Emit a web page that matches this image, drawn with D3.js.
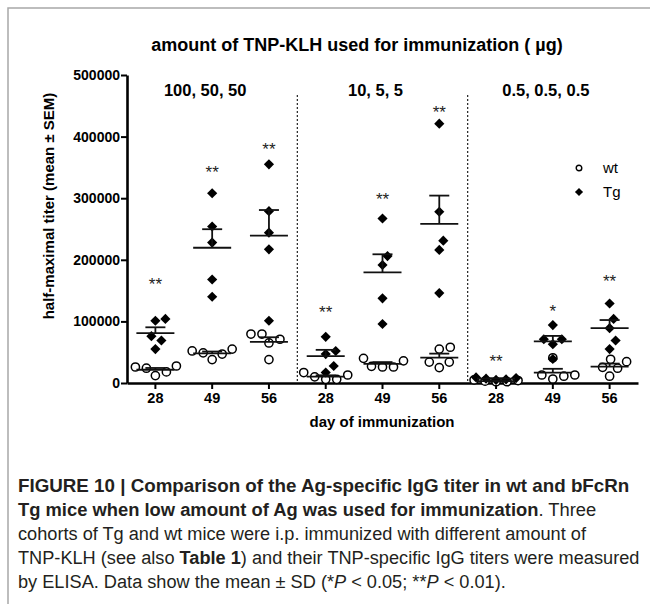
<!DOCTYPE html>
<html>
<head>
<meta charset="utf-8">
<script src="https://cdn.jsdelivr.net/npm/d3@7"></script>
<style>
  body { margin: 0; background: #fff; }
  svg { display: block; }
</style>
</head>
<body>
<div id="chart"></div>
<script>
// categories
const doses = ["100, 50, 50", "10, 5, 5", "0.5, 0.5, 0.5"];
const days = ["28", "49", "56"];
const yTicks = [0, 100000, 200000, 300000, 400000, 500000];

// one row per dose x day, 5 mice each
const tgValues = [
  [101000, 104000, 76000, 69000, 55000],
  [308000, 254000, 228000, 168000, 140000],
  [355000, 279000, 244000, 217000, 101000],
  [75000, 47000, 52000, 27600, 17000],
  [267000, 206000, 191500, 137500, 95800],
  [421000, 278000, 231000, 216000, 146000],
  [8000, 9000, 7000, 5000, 6000],
  [94000, 71000, 71000, 63000, 39000],
  [129000, 104000, 89000, 69000, 55000]
];
const wtValues = [
  [24000, 27600, 26000, 12000, 18000],
  [49000, 55000, 52000, 38000, 47000],
  [79500, 71000, 65000, 79500, 38000],
  [17000, 10000, 6000, 6000, 13000],
  [40000, 26000, 27000, 26000, 36000],
  [58000, 55000, 34000, 25000, 34000],
  [2000, 3000, 4000, 2000, 5000],
  [41000, 13000, 6500, 11000, 13000],
  [38500, 34600, 25500, 24000, 11000]
];
// significance marks and the value they sit at
const sigLabels = ["**", "**", "**", "**", "**", "**", "**", "*", "**"];
const sigY = [167000, 349000, 386000, 122000, 305000, 447000, 43000, 124000, 172600];

const width = 650, height = 604;
const svg = d3.select("#chart").append("svg")
  .attr("width", width)
  .attr("height", height)
  .attr("viewBox", [0, 0, width, height])
  .style("font-family", "'Liberation Sans', Arial, sans-serif");

// frame
svg.append("path")
  .attr("d", "M8,604V8H650")
  .attr("fill", "none")
  .attr("stroke", "#a8a8a8")
  .attr("stroke-width", 1.5);

const cats = d3.range(doses.length * days.length);
const x = d3.scaleBand().domain(cats).range([127, 638]).padding(0);
const y = d3.scaleLinear().domain([0, 500000]).range([383, 75]);

// axes
const yAxis = svg.append("g")
  .attr("transform", "translate(127,0)")
  .call(d3.axisLeft(y).tickValues(yTicks).tickFormat(d3.format("d")).tickSize(6).tickSizeOuter(0));
const xAxis = svg.append("g")
  .attr("transform", "translate(0,383)")
  .call(d3.axisBottom(x).tickFormat(i => days[i % days.length]).tickSize(6).tickSizeOuter(0));

[yAxis, xAxis].forEach(g => {
  g.select(".domain").attr("stroke", "#000").attr("stroke-width", 2.6);
  g.selectAll(".tick line").attr("stroke", "#000").attr("stroke-width", 2);
  g.selectAll(".tick text").attr("fill", "#000").attr("font-weight", "bold")
    .attr("font-size", 14).attr("font-family", "'Liberation Sans', Arial, sans-serif");
});
yAxis.selectAll(".tick text").attr("x", -7);
xAxis.selectAll(".tick text").attr("y", 10).attr("font-size", 14.5);

// dotted dividers between dose groups
[1, 2].forEach(k => {
  const xv = x(k * days.length);
  svg.append("line")
    .attr("x1", xv).attr("x2", xv)
    .attr("y1", 95).attr("y2", 382)
    .attr("stroke", "#222").attr("stroke-width", 1.2)
    .attr("stroke-dasharray", "2,2");
});

// dose labels
doses.forEach((d, k) => {
  const cx = x(k * days.length) + x.bandwidth() * days.length / 2;
  svg.append("text")
    .attr("x", cx - 7).attr("y", 96)
    .attr("text-anchor", "middle")
    .attr("font-weight", "bold").attr("font-size", 16.5)
    .text(d);
});

// titles
svg.append("text")
  .attr("x", 357).attr("y", 51)
  .attr("text-anchor", "middle")
  .attr("font-weight", "bold").attr("font-size", 18)
  .text("amount of TNP-KLH used for immunization ( \u00b5g)");
svg.append("text")
  .attr("transform", "translate(54,206) rotate(-90)")
  .attr("text-anchor", "middle")
  .attr("font-weight", "bold").attr("font-size", 15)
  .text("half-maximal titer (mean \u00b1 SEM)");
svg.append("text")
  .attr("x", 382).attr("y", 427)
  .attr("text-anchor", "middle")
  .attr("font-weight", "bold").attr("font-size", 15)
  .text("day of immunization");

// simple beeswarm: spread points that collide in y
function swarm(vals, dist) {
  const placed = [];
  const out = new Array(vals.length);
  const order = d3.range(vals.length).sort((a, b) => vals[a] - vals[b]);
  order.forEach(i => {
    const py = y(vals[i]);
    let dx = 0;
    for (let k = 0; k < 80; k++) {
      const c = (k % 2 ? 1 : -1) * Math.ceil(k / 2);
      if (placed.every(p => Math.hypot(p.dx - c, p.y - py) >= dist)) { dx = c; break; }
    }
    placed.push({ dx, y: py });
    out[i] = dx;
  });
  return out;
}

const diamond = d3.symbol().type(d3.symbolDiamond2).size(66);
const plot = svg.append("g");

cats.forEach(i => {
  const cx = x(i) + x.bandwidth() / 2;
  const tg = tgValues[i], wt = wtValues[i];

  const wtDx = swarm(wt, 11);
  plot.append("g").selectAll("circle")
    .data(wt)
    .join("circle")
      .attr("cx", (d, j) => cx + wtDx[j])
      .attr("cy", d => y(d))
      .attr("r", 4.1)
      .attr("fill", "#fff")
      .attr("stroke", "#000")
      .attr("stroke-width", 1.5);

  const tgDx = swarm(tg, 10);
  plot.append("g").selectAll("path")
    .data(tg)
    .join("path")
      .attr("transform", (d, j) => `translate(${cx + tgDx[j]},${y(d)})`)
      .attr("d", diamond)
      .attr("fill", "#000");

  // mean with upper SEM
  [tg, wt].forEach(vals => {
    const m = d3.mean(vals);
    const sem = d3.deviation(vals) / Math.sqrt(vals.length);
    const g = plot.append("g").attr("stroke", "#111").attr("stroke-width", 1.8);
    g.append("line").attr("x1", cx - 19).attr("x2", cx + 19).attr("y1", y(m)).attr("y2", y(m));
    g.append("line").attr("x1", cx).attr("x2", cx).attr("y1", y(m)).attr("y2", y(m + sem));
    g.append("line").attr("x1", cx - 10).attr("x2", cx + 10).attr("y1", y(m + sem)).attr("y2", y(m + sem));
  });

  svg.append("text")
    .attr("x", cx).attr("y", y(sigY[i]) + 10)
    .attr("text-anchor", "middle")
    .attr("font-size", 17).attr("fill", "#222")
    .text(sigLabels[i]);
});

// legend
const lg = svg.append("g").attr("transform", "translate(579,0)");
lg.append("circle").attr("cx", 0).attr("cy", 168).attr("r", 2.8)
  .attr("fill", "#fff").attr("stroke", "#000").attr("stroke-width", 1.4);
lg.append("path").attr("transform", "translate(0,192)")
  .attr("d", d3.symbol().type(d3.symbolDiamond2).size(42)).attr("fill", "#000");
lg.append("text").attr("x", 24).attr("y", 173).attr("font-size", 15).text("wt");
lg.append("text").attr("x", 24).attr("y", 197).attr("font-size", 15).text("Tg");

// caption
const caption = [
  [["FIGURE 10 | Comparison of the Ag-specific IgG titer in wt and bFcRn", "b"]],
  [["Tg mice when low amount of Ag was used for immunization", "b"], [". Three", "n"]],
  [["cohorts of Tg and wt mice were i.p. immunized with different amount of", "n"]],
  [["TNP-KLH (see also ", "n"], ["Table 1", "b"], [") and their TNP-specific IgG titers were measured", "n"]],
  [["by ELISA. Data show the mean \u00b1 SD (*", "n"], ["P", "i"], [" < 0.05; **", "n"], ["P", "i"], [" < 0.01).", "n"]]
];
const cap = svg.append("g");
const lines = caption.map((segs, li) => {
  const t = cap.append("text")
    .attr("x", 0).attr("y", 492 + li * 24)
    .attr("font-size", 18).attr("fill", "#231f20");
  segs.forEach(([s, st]) => {
    t.append("tspan")
      .attr("font-weight", st === "b" ? "bold" : "normal")
      .attr("font-style", st === "i" ? "italic" : "normal")
      .text(s);
  });
  return t;
});
// squeeze the caption like the narrow journal font; bold first lines a bit wider
const k4 = 622 / lines[3].node().getComputedTextLength();
const lineFit = [612 / lines[0].node().getComputedTextLength(), k4 * 1.01, k4, k4, k4];
lines.forEach((t, li) => t.attr("transform", `translate(18,0) scale(${lineFit[li]},1)`));
</script>
</body>
</html>
